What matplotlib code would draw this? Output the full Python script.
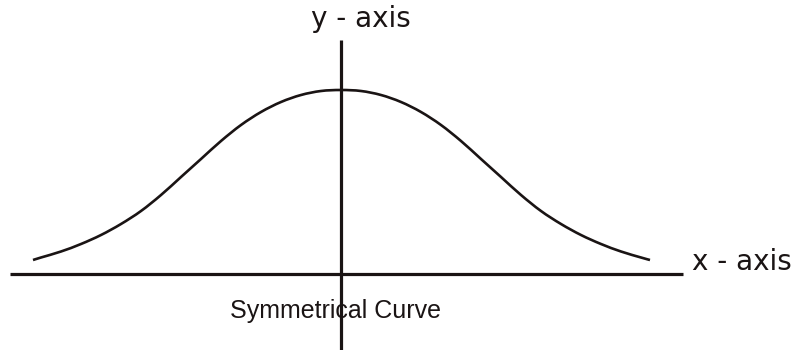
import matplotlib
matplotlib.use('Agg')
import matplotlib.pyplot as plt
from matplotlib.path import Path
from matplotlib.patches import PathPatch

# curve (x from centre, height above x-axis)
curve_x = [-3.08, -3.0, -2.8, -2.6, -2.4, -2.2, -2.0, -1.8, -1.6, -1.4, -1.2,
           -1.0, -0.8, -0.6, -0.4, -0.2, 0.0, 0.2, 0.4, 0.6, 0.8, 1.0,
           1.2, 1.4, 1.6, 1.8, 2.0, 2.2, 2.4, 2.6, 2.8, 3.0, 3.09]
curve_y = [0.14, 0.165, 0.225, 0.30, 0.39, 0.50, 0.63, 0.79, 0.97, 1.15, 1.33,
           1.49, 1.62, 1.72, 1.79, 1.83, 1.84, 1.83, 1.79, 1.72, 1.62, 1.49,
           1.33, 1.15, 0.97, 0.79, 0.63, 0.50, 0.39, 0.30, 0.225, 0.165, 0.14]

xaxis_span = [-3.31, 3.42]
yaxis_span = [-0.76, 2.34]

labels = ['y - axis', 'x - axis', 'Symmetrical Curve']


def smooth_path(xs, ys):
    '''
    pass a smooth bezier path through the read points (catmull-rom style)
    '''
    pts = list(zip(xs, ys))
    n = len(pts)
    verts = [pts[0]]
    codes = [Path.MOVETO]
    for i in range(n - 1):
        p0 = pts[max(i - 1, 0)]
        p1 = pts[i]
        p2 = pts[i + 1]
        p3 = pts[min(i + 2, n - 1)]
        c1 = (p1[0] + (p2[0] - p0[0]) / 6, p1[1] + (p2[1] - p0[1]) / 6)
        c2 = (p2[0] - (p3[0] - p1[0]) / 6, p2[1] - (p3[1] - p1[1]) / 6)
        verts += [c1, c2, p2]
        codes += [Path.CURVE4] * 3
    return Path(verts, codes)


plt.rcParams['font.family'] = ['Liberation Sans', 'DejaVu Sans']

fig = plt.figure(figsize=(7.98, 3.5), dpi=100)
ax = fig.add_axes([0, 0, 1, 1])
ax.set_xlim(-3.41, 4.57)
ax.set_ylim(-0.76, 2.74)
ax.axis('off')

ink = '#1a1414'
ax.plot(xaxis_span, [0, 0], color=ink, linewidth=2.3, solid_capstyle='butt')
ax.plot([0, 0], yaxis_span, color=ink, linewidth=2.3, solid_capstyle='butt')
ax.add_patch(PathPatch(smooth_path(curve_x, curve_y), facecolor='none',
                       edgecolor=ink, linewidth=1.9, capstyle='butt'))

ax.text(0.20, 2.47, labels[0], fontsize=20, ha='center', va='baseline',
        color=ink, family='DejaVu Sans')
ax.text(3.51, 0.04, labels[1], fontsize=20, ha='left', va='baseline',
        color=ink, family='DejaVu Sans')
ax.text(-1.11, -0.44, labels[2], fontsize=18, ha='left', va='baseline', color=ink)

plt.savefig('out.png', dpi=100)
